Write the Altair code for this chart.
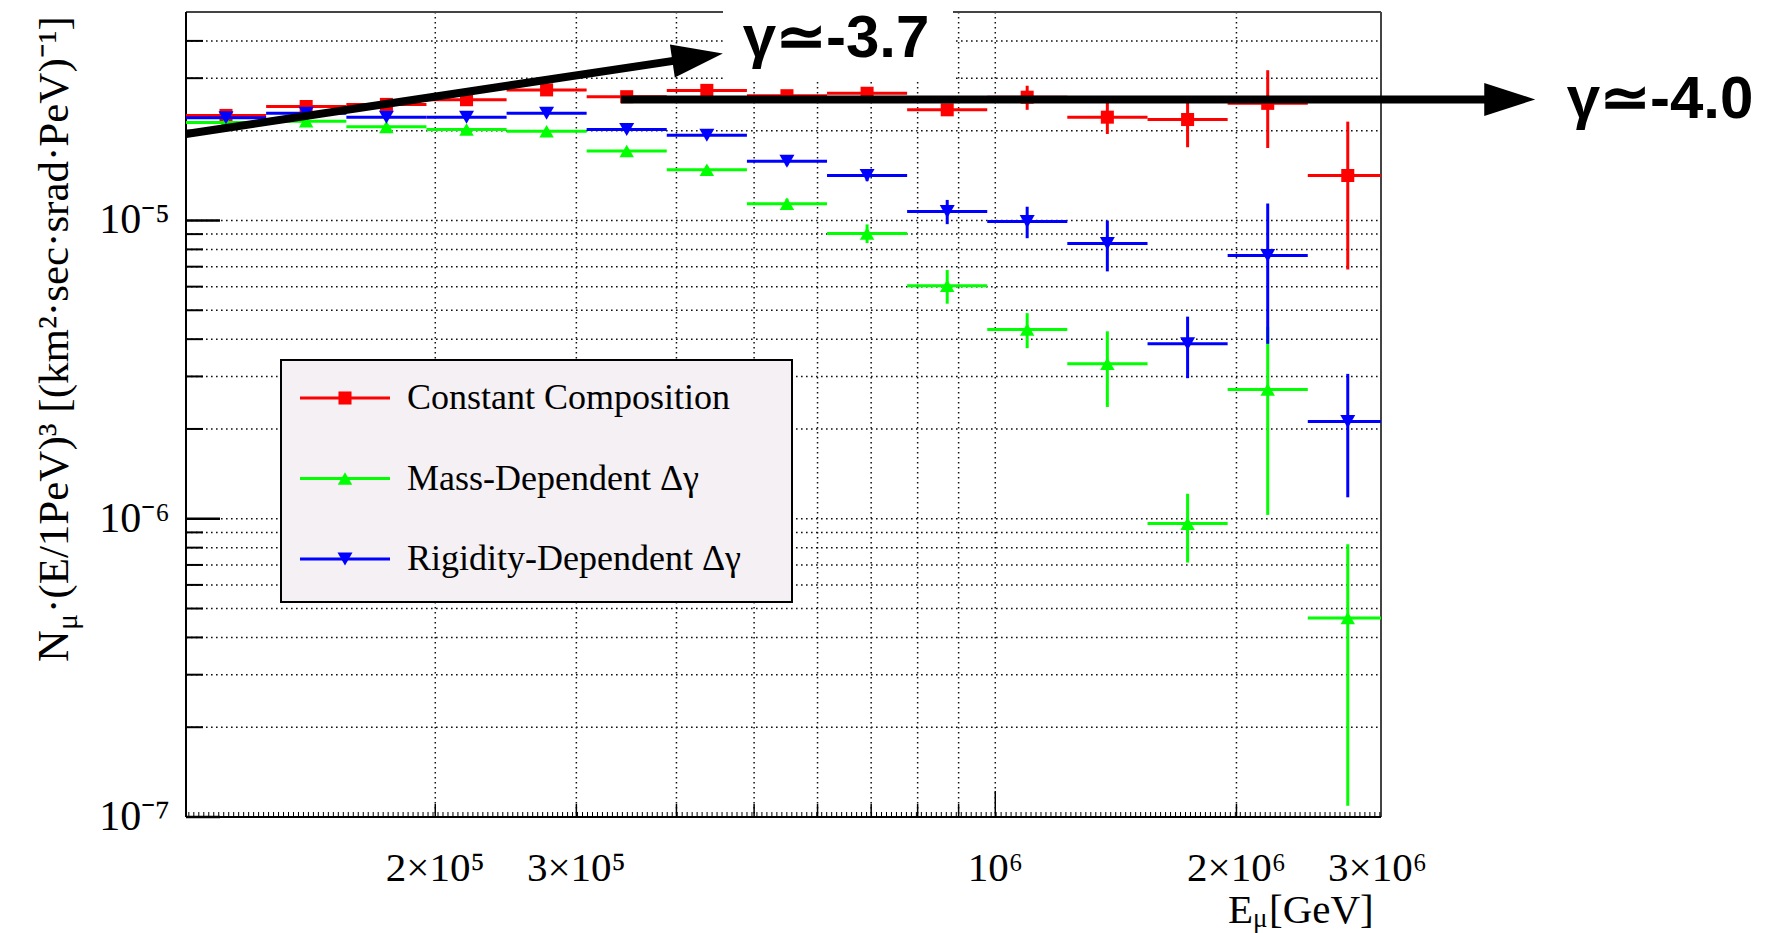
import altair as alt
import numpy as np
import pandas as pd

# plot-area geometry (pixels)
W, H = 1195, 805
PAD_L, PAD_T = 186, 12

# muon-energy bins in GeV: lower edge, centre, upper edge
e_lo = [9.77e4, 1.230e5, 1.549e5, 1.950e5, 2.455e5, 3.090e5, 3.890e5, 4.898e5,
        6.166e5, 7.762e5, 9.772e5, 1.230e6, 1.549e6, 1.950e6, 2.455e6]
e_mid = [1.096e5, 1.380e5, 1.738e5, 2.188e5, 2.754e5, 3.467e5, 4.365e5, 5.495e5,
         6.918e5, 8.710e5, 1.096e6, 1.380e6, 1.738e6, 2.188e6, 2.754e6]
e_hi = [1.230e5, 1.549e5, 1.950e5, 2.455e5, 3.090e5, 3.890e5, 4.898e5, 6.166e5,
        7.762e5, 9.772e5, 1.230e6, 1.549e6, 1.950e6, 2.455e6, 3.090e6]

# E^3-weighted muon flux and its uncertainty, per composition model
const_flux = [2.25e-5, 2.41e-5, 2.45e-5, 2.54e-5, 2.74e-5, 2.60e-5, 2.73e-5, 2.62e-5,
              2.67e-5, 2.35e-5, 2.59e-5, 2.22e-5, 2.18e-5, 2.47e-5, 1.415e-5]
const_err = [0.3e-6, 0.35e-6, 0.4e-6, 0.45e-6, 0.5e-6, 0.55e-6, 0.65e-6, 0.7e-6,
             0.8e-6, 0.9e-6, 2.4e-6, 2.7e-6, 4.2e-6, 7.2e-6, 7.3e-6]
mass_flux = [2.13e-5, 2.15e-5, 2.06e-5, 2.02e-5, 1.99e-5, 1.71e-5, 1.48e-5, 1.138e-5,
             9.05e-6, 6.04e-6, 4.31e-6, 3.31e-6, 9.63e-7, 2.71e-6, 4.65e-7]
mass_err = [0.25e-6, 0.3e-6, 0.3e-6, 0.3e-6, 0.35e-6, 0.35e-6, 0.4e-6, 0.45e-6,
            0.65e-6, 0.78e-6, 0.58e-6, 0.94e-6, 2.5e-7, 1.68e-6, 3.56e-7]
rigid_flux = [2.21e-5, 2.29e-5, 2.22e-5, 2.22e-5, 2.29e-5, 2.02e-5, 1.93e-5, 1.58e-5,
              1.415e-5, 1.072e-5, 9.92e-6, 8.37e-6, 3.86e-6, 7.63e-6, 2.12e-6]
rigid_err = [0.3e-6, 0.3e-6, 0.35e-6, 0.35e-6, 0.4e-6, 0.4e-6, 0.45e-6, 0.5e-6,
             0.6e-6, 1.0e-6, 1.2e-6, 1.62e-6, 0.9e-6, 3.77e-6, 0.94e-6]

series_names = ["Constant Composition", "Mass-Dependent \u0394\u03b3", "Rigidity-Dependent \u0394\u03b3"]
series_colors = ["#ff0000", "#00ff00", "#0000ff"]
series_shapes = ["square", "triangle-up", "triangle-down"]
series_sizes = [170, 210, 225]
series_values = [(const_flux, const_err), (mass_flux, mass_err), (rigid_flux, rigid_err)]

# axis decorations
y_grid = [2e-7, 3e-7, 4e-7, 5e-7, 6e-7, 7e-7, 8e-7, 9e-7,
          1e-6, 2e-6, 3e-6, 4e-6, 5e-6, 6e-6, 7e-6, 8e-6, 9e-6,
          1e-5, 2e-5, 3e-5, 4e-5]
y_major = [1e-7, 1e-6, 1e-5]
y_major_text = ["10\u207b\u2077", "10\u207b\u2076", "10\u207b\u2075"]
x_grid = [2e5, 3e5, 4e5, 5e5, 6e5, 7e5, 8e5, 9e5, 1e6, 2e6]
x_major = [1e6]
x_label_vals = [2e5, 3e5, 1e6, 2e6, 3e6]
x_label_text = ["2\u00d710\u2075", "3\u00d710\u2075", "10\u2076", "2\u00d710\u2076", "3\u00d710\u2076"]

# annotation arrows (shaft ends and tips, in data units)
arrow1_e = [9.77e4, 4.26e5]
arrow1_f = [1.95e-5, 3.53e-5]
arrow1_tip = (4.57e5, 3.63e-5)
arrow2_e = [3.41e5, 4.39e6]
arrow2_f = [2.545e-5, 2.545e-5]
arrow2_tip = (4.72e6, 2.545e-5)

XS = alt.Scale(type="log", domain=[9.77e4, 3.03e6], nice=False)
YS = alt.Scale(type="log", domain=[1e-7, 5e-5], nice=False)
SERIF = "Liberation Serif"
GRID = dict(stroke="#111", strokeWidth=1.5, strokeDash=[1.6, 3.4])


def xq(field):
    return alt.X(f"{field}:Q", scale=XS, axis=None)


def yq(field):
    return alt.Y(f"{field}:Q", scale=YS, axis=None)


one = pd.DataFrame({"k": [0]})
layers = []

# dotted grid
layers.append(alt.Chart(pd.DataFrame({"v": y_grid})).mark_rule(**GRID).encode(
    y=yq("v"), x=alt.value(0), x2=alt.value(W)))
layers.append(alt.Chart(pd.DataFrame({"v": x_grid})).mark_rule(**GRID).encode(
    x=xq("v"), y=alt.value(0), y2=alt.value(H)))

# frame
layers.append(alt.Chart(one).mark_rule(stroke="#444", strokeWidth=2).encode(
    x=alt.value(0), x2=alt.value(W), y=alt.value(0)))
layers.append(alt.Chart(one).mark_rule(stroke="#444", strokeWidth=2).encode(
    x=alt.value(W), y=alt.value(0), y2=alt.value(H)))
layers.append(alt.Chart(one).mark_rule(stroke="black", strokeWidth=2).encode(
    x=alt.value(0), y=alt.value(0), y2=alt.value(H)))
layers.append(alt.Chart(one).mark_rule(stroke="black", strokeWidth=2).encode(
    x=alt.value(0), x2=alt.value(W), y=alt.value(H)))

# inward ticks
y_minor = [v for v in y_grid if v not in y_major]
layers.append(alt.Chart(pd.DataFrame({"v": y_minor})).mark_rule(stroke="black", strokeWidth=2).encode(
    y=yq("v"), x=alt.value(0), x2=alt.value(17)))
layers.append(alt.Chart(pd.DataFrame({"v": y_major})).mark_rule(stroke="black", strokeWidth=2.5).encode(
    y=yq("v"), x=alt.value(0), x2=alt.value(34)))
x_minor = [v for v in x_grid if v not in x_major]
fine_ticks = list(np.logspace(np.log10(9.85e4), np.log10(3.02e6), 240))
layers.append(alt.Chart(pd.DataFrame({"v": fine_ticks})).mark_rule(stroke="black", strokeWidth=1).encode(
    x=xq("v"), y=alt.value(H), y2=alt.value(H - 5)))
layers.append(alt.Chart(pd.DataFrame({"v": x_minor})).mark_rule(stroke="black", strokeWidth=1.5).encode(
    x=xq("v"), y=alt.value(H), y2=alt.value(H - 13)))
layers.append(alt.Chart(pd.DataFrame({"v": x_major})).mark_rule(stroke="black", strokeWidth=1.5).encode(
    x=xq("v"), y=alt.value(H), y2=alt.value(H - 26)))

# white backing box behind the upper slope label
layers.append(alt.Chart(one).mark_rect(fill="white").encode(
    x=alt.value(537), x2=alt.value(767), y=alt.value(-12), y2=alt.value(70)))

# data: horizontal bin-width bars, vertical error bars, markers
for name, color, shape, size, (flux, err) in zip(series_names, series_colors, series_shapes,
                                                  series_sizes, series_values):
    df = pd.DataFrame({
        "e_lo": e_lo, "e_mid": e_mid, "e_hi": e_hi, "flux": flux,
        "f_lo": [f - e for f, e in zip(flux, err)],
        "f_hi": [f + e for f, e in zip(flux, err)],
        "model": name,
    })
    base = alt.Chart(df)
    layers.append(base.mark_rule(color=color, strokeWidth=3, clip=True).encode(
        x=xq("e_lo"), x2="e_hi:Q", y=yq("flux")))
    layers.append(base.mark_rule(color=color, strokeWidth=3, clip=True).encode(
        x=xq("e_mid"), y=yq("f_lo"), y2="f_hi:Q"))
    layers.append(base.mark_point(shape=shape, filled=True, size=size, color=color,
                                  opacity=1, strokeWidth=0, clip=True).encode(
        x=xq("e_mid"), y=yq("flux")))

# slope arrows
HEAD = "M0,0L-2,-0.65L-2,0.65Z"
for es, fs, tip, ang in [(arrow1_e, arrow1_f, arrow1_tip, 351.5), (arrow2_e, arrow2_f, arrow2_tip, 0)]:
    layers.append(alt.Chart(pd.DataFrame({"e": es, "f": fs})).mark_line(
        color="black", strokeWidth=8, strokeCap="butt").encode(x=xq("e"), y=yq("f")))
    layers.append(alt.Chart(pd.DataFrame({"e": [tip[0]], "f": [tip[1]]})).mark_point(
        shape=HEAD, size=2601, filled=True, color="black", opacity=1, strokeWidth=0,
        angle=ang).encode(x=xq("e"), y=yq("f")))

layers.append(alt.Chart(one).mark_text(
    text="\u03b3\u2243-3.7", font="Liberation Sans Narrow, Liberation Sans", fontWeight="bold",
    fontSize=60, align="center", baseline="middle", color="black").encode(
    x=alt.value(650), y=alt.value(27)))
layers.append(alt.Chart(one).mark_text(
    text="\u03b3\u2243-4.0", font="Liberation Sans Narrow, Liberation Sans", fontWeight="bold",
    fontSize=60, align="center", baseline="middle", color="black").encode(
    x=alt.value(1474), y=alt.value(88)))

# legend
layers.append(alt.Chart(one).mark_rect(fill="#f4f0f4", stroke="black", strokeWidth=2).encode(
    x=alt.value(95), x2=alt.value(606), y=alt.value(348), y2=alt.value(590)))
for i, (name, color, shape, size) in enumerate(zip(series_names, series_colors, series_shapes, series_sizes)):
    ly = 386 + 80.5 * i
    layers.append(alt.Chart(one).mark_rule(color=color, strokeWidth=3).encode(
        x=alt.value(114), x2=alt.value(204), y=alt.value(ly)))
    layers.append(alt.Chart(one).mark_point(shape=shape, filled=True, size=size, color=color,
                                            opacity=1, strokeWidth=0).encode(
        x=alt.value(159), y=alt.value(ly)))
    layers.append(alt.Chart(one).mark_text(text=name, font=SERIF, fontSize=36, align="left",
                                           baseline="middle", color="black").encode(
        x=alt.value(221), y=alt.value(ly)))

# tick labels
layers.append(alt.Chart(pd.DataFrame({"v": y_major, "t": y_major_text})).mark_text(
    font=SERIF, fontSize=42, align="right", baseline="middle", color="black").encode(
    y=yq("v"), x=alt.value(-16), text="t:N"))
layers.append(alt.Chart(pd.DataFrame({"v": x_label_vals, "t": x_label_text})).mark_text(
    font=SERIF, fontSize=41, align="center", baseline="alphabetic", color="black").encode(
    x=xq("v"), y=alt.value(H + 64), text="t:N"))

# x-axis title: E_mu[GeV]
layers.append(alt.Chart(one).mark_text(text="E", font=SERIF, fontSize=41, align="left",
                                       baseline="alphabetic").encode(x=alt.value(1042), y=alt.value(911)))
layers.append(alt.Chart(one).mark_text(text="\u03bc", font=SERIF, fontSize=27, align="left",
                                       baseline="alphabetic").encode(x=alt.value(1067), y=alt.value(915)))
layers.append(alt.Chart(one).mark_text(text="[GeV]", font=SERIF, fontSize=41, align="left",
                                       baseline="alphabetic").encode(x=alt.value(1083), y=alt.value(911)))

# y-axis title: N_mu (E/1PeV)^3 [(km^2 sec srad PeV)^-1], reading upward
layers.append(alt.Chart(one).mark_text(text="N", font=SERIF, fontSize=44, align="left", angle=270,
                                       baseline="alphabetic").encode(x=alt.value(-118), y=alt.value(650)))
layers.append(alt.Chart(one).mark_text(text="\u03bc", font=SERIF, fontSize=30, align="left", angle=270,
                                       baseline="alphabetic").encode(x=alt.value(-109), y=alt.value(618)))
layers.append(alt.Chart(one).mark_text(
    text="\u00b7(E/1PeV)\u00b3 [(km\u00b2\u00b7sec\u00b7srad\u00b7PeV)\u207b\u00b9]",
    font=SERIF, fontSize=43, align="left", angle=270, baseline="alphabetic").encode(
    x=alt.value(-118), y=alt.value(601)))

chart = alt.layer(*layers).properties(
    width=W, height=H,
    padding={"left": PAD_L, "top": PAD_T, "right": 1774 - PAD_L - W, "bottom": 933 - PAD_T - H},
    autosize=alt.AutoSizeParams(type="none"),
    background="white",
).configure_view(stroke=None)

chart.save("out.html", embed_options={"renderer": "svg", "actions": False})
